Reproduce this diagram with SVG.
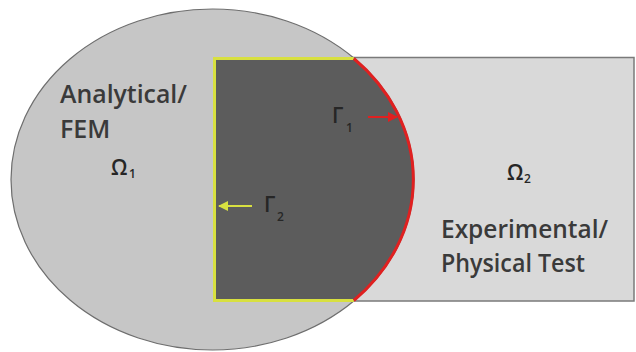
<svg xmlns="http://www.w3.org/2000/svg" width="636" height="352" viewBox="0 0 636 352">
  <defs>
    <style>
      .lbl { font-family: "Open Sans", "Liberation Sans", sans-serif; fill: #3a3a3a; font-size: 25px; font-weight: 600; }
      .sym { font-family: "Open Sans", "DejaVu Sans", sans-serif; fill: #262626; font-size: 21px; font-weight: 600; }
      .sub { font-family: "Open Sans", "DejaVu Sans", sans-serif; fill: #262626; font-size: 12px; font-weight: 600; }
    </style>
    <marker id="arrRed" viewBox="0 0 10 10" refX="9" refY="5" markerWidth="5" markerHeight="5" orient="auto">
      <path d="M0,0 L10,5 L0,10 z" fill="#e02020"/>
    </marker>
    <marker id="arrYel" viewBox="0 0 10 10" refX="9" refY="5" markerWidth="5" markerHeight="5" orient="auto">
      <path d="M0,0 L10,5 L0,10 z" fill="#d8e040"/>
    </marker>
  </defs>
  <rect width="636" height="352" fill="#ffffff"/>

  <g id="omega2">
    <rect x="330" y="57.5" width="304" height="243.5" fill="#d9d9d9" stroke="#7a7a7a" stroke-width="1.5"/>
  </g>

  <g id="omega1">
    <ellipse cx="212.5" cy="179.5" rx="201.5" ry="170.5" fill="#c6c6c6" stroke="#6e6e6e" stroke-width="1.2"/>
  </g>

  <g id="overlap">
    <path d="M214.5,58.5 L353.8,58.5 A201.5,170.5 0 0 1 353.8,300.5 L214.5,300.5 Z" fill="#5c5c5c"/>
    <path d="M353.8,58.5 L214.5,58.5 L214.5,300.5 L353.8,300.5" fill="none" stroke="#d8e040" stroke-width="3"/>
    <path d="M353.8,58.5 A201.5,170.5 0 0 1 353.8,300.5" fill="none" stroke="#e02020" stroke-width="3"/>
  </g>

  <g id="connectors">
    <line x1="368" y1="117" x2="397" y2="117" stroke="#e02020" stroke-width="2" marker-end="url(#arrRed)"/>
    <line x1="252" y1="206" x2="219" y2="206" stroke="#d8e040" stroke-width="2" marker-end="url(#arrYel)"/>
  </g>

  <g id="label-omega1">
    <text class="lbl" x="60" y="103" textLength="127" lengthAdjust="spacingAndGlyphs">Analytical/</text>
    <text class="lbl" x="60" y="138">FEM</text>
    <text class="sym" x="111" y="175">Ω</text>
    <text class="sub" x="129" y="178">1</text>
  </g>

  <g id="label-omega2">
    <text class="sym" x="507" y="180">Ω</text>
    <text class="sub" x="524" y="183">2</text>
    <text class="lbl" x="441" y="238" textLength="167" lengthAdjust="spacingAndGlyphs">Experimental/</text>
    <text class="lbl" x="441" y="272" textLength="144" lengthAdjust="spacingAndGlyphs">Physical Test</text>
  </g>

  <g id="label-gamma1">
    <text class="sym" x="332" y="123">Γ</text>
    <text class="sub" x="346" y="132">1</text>
  </g>

  <g id="label-gamma2">
    <text class="sym" x="264" y="212">Γ</text>
    <text class="sub" x="277" y="221">2</text>
  </g>
</svg>
